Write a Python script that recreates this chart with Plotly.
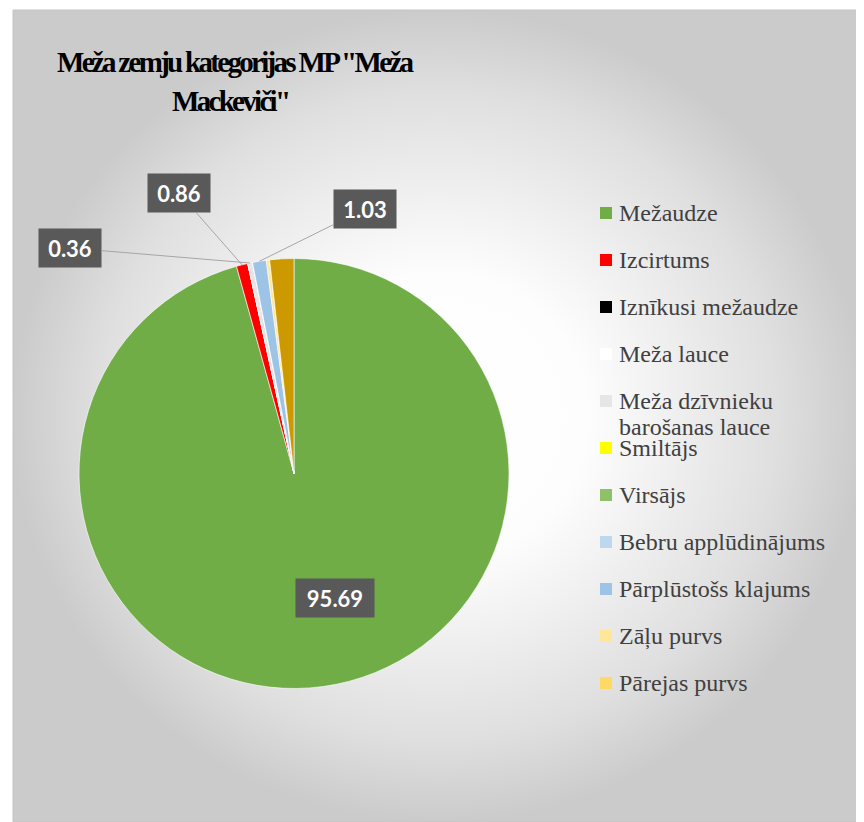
import math
import textwrap
import plotly.graph_objects as go

# data
categories = ['Mežaudze', 'Izcirtums', 'Iznīkusi mežaudze', 'Meža lauce',
              'Meža dzīvnieku barošanas lauce', 'Smiltājs', 'Virsājs',
              'Bebru applūdinājums', 'Pārplūstošs klajums', 'Zāļu purvs',
              'Pārejas purvs', 'Sūnu purvs']
values = [95.69, 0.86, 0, 0, 0.36, 0, 0, 0, 1.03, 0.25, 0, 1.81]
colors = ['#70AD47', '#FF0000', '#000000', '#FFFFFF', '#E7E6E6', '#FFFF00',
          '#8FC16A', '#BDD7EE', '#9DC3E6', '#FFE699', '#FFD966', '#CC9900']
legend_count = 11  # legend box only shows the first 11 categories
title_lines = ['Meža zemju kategorijas MP "Meža', 'Mackeviči"']

# which slices carry a value label, and where the label box sits (page px)
label_boxes = {
    'Mežaudze': (335, 598, False),
    'Izcirtums': (179, 193, True),
    'Meža dzīvnieku barošanas lauce': (70, 248, True),
    'Pārplūstošs klajums': (365, 209, True),
}

# the page body has an 8px margin, so the figure covers page px 8..864 / 8..822
OFF = 8
PW, PH = 864, 822
W, H = PW - OFF, PH - OFF
cx, cy, r = 294, 473.5, 215
SERIF = 'Liberation Serif'

fig = go.Figure()

# gradient background of chart area
fig.add_trace(go.Scatter(
    x=[13, PW, PW, 13, 13], y=[10, 10, PH, PH, 10],
    mode='lines', fill='toself',
    line=dict(color='#c4c4c4', width=1),
    fillgradient=dict(type='radial',
                      colorscale=[[0, '#ffffff'], [0.35, '#fdfdfd'],
                                  [0.8, '#dfdfdf'], [1, '#cbcbcb']]),
    hoverinfo='skip', showlegend=False,
))

fig.add_trace(go.Pie(
    labels=categories, values=values, sort=False,
    direction='clockwise', rotation=0,
    marker=dict(colors=colors, line=dict(color='#ffffff', width=0.6)),
    textinfo='none', showlegend=False,
    domain=dict(x=[(cx - r - OFF) / W, (cx + r - OFF) / W],
                y=[1 - (cy + r - OFF) / H, 1 - (cy - r - OFF) / H]),
))

annotations = []
shapes = []

# value labels with leader lines
total = sum(values)
cum = 0
for name, v in zip(categories, values):
    mid = (cum + v / 2) / total * 2 * math.pi
    cum += v
    if name not in label_boxes:
        continue
    bx, by, leader = label_boxes[name]
    txt = '<b>%.2f</b>' % v
    a = dict(text=txt, xref='x', yref='y',
             font=dict(family='Lato', size=22, color='white'),
             bgcolor='#595959', borderpad=6, height=26,
             width=66 if v >= 10 else 50)
    if leader:
        px = cx + r * math.sin(mid)
        py = cy - r * math.cos(mid)
        a.update(x=px, y=py, ax=bx, ay=by, axref='x', ayref='y',
                 showarrow=True, arrowhead=0, arrowwidth=1, arrowcolor='#a6a6a6')
    else:
        a.update(x=bx, y=by, showarrow=False)
    annotations.append(a)

# title
for line, (tx, ty) in zip(title_lines, [(236, 62), (230, 101)]):
    annotations.append(dict(
        text='<span style="letter-spacing:-2.7px"><b>%s</b></span>' % line,
        x=tx, y=ty, xref='x', yref='y', showarrow=False,
        font=dict(family=SERIF, size=29, color='#000000'),
        xanchor='center', yanchor='middle',
    ))

# legend box
shapes.append(dict(type='rect', xref='x', yref='y', x0=575, x1=847, y0=202, y1=722,
                   fillcolor='rgba(255,255,255,0.35)', line=dict(width=0), layer='below'))
for i in range(legend_count):
    yc = 213 + 47 * i
    shapes.append(dict(type='rect', xref='x', yref='y', x0=600, x1=612,
                       y0=yc - 6, y1=yc + 6, fillcolor=colors[i],
                       line=dict(width=0)))
    for j, line in enumerate(textwrap.wrap(categories[i], 20)):
        annotations.append(dict(
            text='<span style="font-family:%s">%s</span>' % (SERIF, line),
            x=617, y=yc + 26 * j, xref='x', yref='y',
            xanchor='left', yanchor='middle', showarrow=False,
            font=dict(family=SERIF, size=24, color='#404040'),
        ))

fig.update_layout(
    width=W, height=H,
    margin=dict(l=0, r=0, t=0, b=0),
    font=dict(family=SERIF),
    paper_bgcolor='white', plot_bgcolor='rgba(0,0,0,0)',
    xaxis=dict(range=[OFF, PW], visible=False, fixedrange=True),
    yaxis=dict(range=[PH, OFF], visible=False, fixedrange=True),
    annotations=annotations, shapes=shapes,
    showlegend=False,
)

fig.write_html("out.html")
